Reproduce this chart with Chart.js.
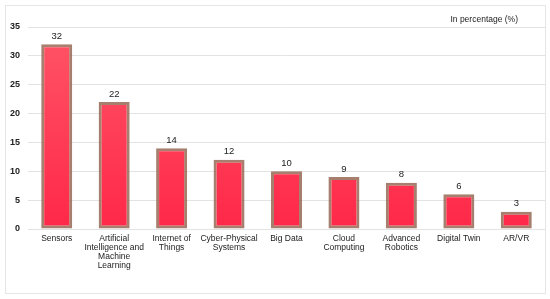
<!DOCTYPE html>
<html>
<head>
<meta charset="utf-8">
<script src="https://cdn.jsdelivr.net/npm/chart.js@4"></script>
<style>
  html, body { margin: 0; padding: 0; background: #fff; }
  #wrap { position: relative; width: 550px; height: 299px; }
</style>
</head>
<body>
<div id="wrap"><canvas id="chart" width="550" height="299"></canvas></div>
<script>
// Data
const categories = [
    'Sensors',
    ['Artificial', 'Intelligence and', 'Machine', 'Learning'],
    ['Internet of', 'Things'],
    ['Cyber-Physical', 'Systems'],
    'Big Data',
    ['Cloud', 'Computing'],
    ['Advanced', 'Robotics'],
    'Digital Twin',
    'AR/VR'
];
const shares = [32, 22, 14, 12, 10, 9, 8, 6, 3];
const yTicks = [0, 5, 10, 15, 20, 25, 30, 35];
const unitNote = 'In percentage (%)';

const fontFamily = '"Liberation Sans", Arial, sans-serif';

// light frame round the figure + unit note
const framePlugin = {
    id: 'frame',
    beforeDraw(chart) {
        const c = chart.ctx;
        c.save();
        c.strokeStyle = '#e6e6e6';
        c.lineWidth = 1;
        c.strokeRect(5.5, 5.5, 540, 288);
        c.restore();
    },
    afterDraw(chart) {
        const c = chart.ctx;
        c.save();
        c.fillStyle = '#222';
        c.font = '8.5px ' + fontFamily;
        c.textAlign = 'right';
        c.textBaseline = 'middle';
        c.fillText(unitNote, 518, 20);
        c.restore();
    }
};

// value above each bar
const valuePlugin = {
    id: 'values',
    afterDatasetsDraw(chart) {
        const c = chart.ctx;
        const meta = chart.getDatasetMeta(0);
        c.save();
        c.fillStyle = '#222';
        c.font = '9.5px ' + fontFamily;
        c.textAlign = 'center';
        c.textBaseline = 'middle';
        meta.data.forEach((bar, i) => {
            c.fillText(String(shares[i]), bar.x, bar.y - 8);
        });
        c.restore();
    }
};

new Chart(document.getElementById('chart'), {
    type: 'bar',
    data: {
        labels: categories,
        datasets: [{
            data: shares,
            backgroundColor: function(context) {
                const area = context.chart.chartArea;
                if (!area) return '#ff3d55';
                const g = context.chart.ctx.createLinearGradient(0, area.top, 0, area.bottom);
                g.addColorStop(0, '#ff5566');
                g.addColorStop(1, '#ff2848');
                return g;
            },
            borderColor: 'rgba(150, 105, 85, 0.85)',
            borderWidth: 3,
            borderSkipped: false,
            barPercentage: 0.54,
            categoryPercentage: 1
        }]
    },
    options: {
        responsive: false,
        animation: false,
        layout: { padding: { left: 0, right: 5, top: 27, bottom: 0 } },
        plugins: {
            legend: { display: false },
            tooltip: { enabled: false }
        },
        scales: {
            x: {
                grid: { display: false, drawTicks: false },
                border: { display: false },
                ticks: {
                    color: '#222',
                    font: { family: fontFamily, size: 8.5, lineHeight: '9px' },
                    maxRotation: 0,
                    autoSkip: false,
                    padding: 5
                },
                afterFit(scale) { scale.height = 70; }
            },
            y: {
                min: 0,
                max: 35,
                afterBuildTicks(scale) { scale.ticks = yTicks.map(v => ({ value: v })); },
                grid: { color: '#e3e3e3', drawTicks: false },
                border: { display: false },
                ticks: {
                    color: '#222',
                    font: { family: fontFamily, size: 9, weight: 'bold' },
                    padding: 8
                },
                afterFit(scale) { scale.width = 28; }
            }
        }
    },
    plugins: [framePlugin, valuePlugin]
});
</script>
</body>
</html>
